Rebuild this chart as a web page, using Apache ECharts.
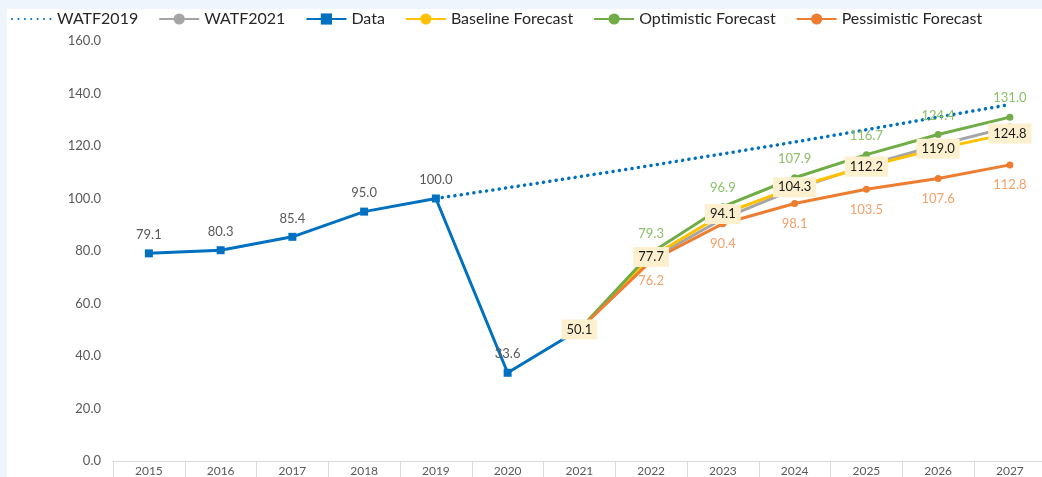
<!DOCTYPE html>
<html>
<head>
<meta charset="utf-8">
<script src="https://cdn.jsdelivr.net/npm/echarts@6/dist/echarts.min.js"></script>
<style>
  html, body { margin: 0; padding: 0; background: #eef5fd; overflow: hidden; }
  #main { position: absolute; left: 7px; top: 9px; width: 1040px; height: 468px; background: #ffffff; }
</style>
</head>
<body>
<div id="main"></div>
<script>
  // years on the category axis
  var years = ['2015', '2016', '2017', '2018', '2019', '2020', '2021', '2022', '2023', '2024', '2025', '2026', '2027'];

  // series values (null = no point)
  var watf2019 = [null, null, null, null, 100.0, 104.1, 108.3, 112.6, 117.0, 121.5, 126.2, 131.0, 135.8];
  var watf2021 = [null, null, null, null, null, null, 50.1, 77.0, 92.3, 103.6, 112.6, 120.4, 127.3];
  var actual = [79.1, 80.3, 85.4, 95.0, 100.0, 33.6, 50.1, null, null, null, null, null, null];
  var baseline = [null, null, null, null, null, null, 50.1, 77.7, 94.1, 104.3, 112.2, 119.0, 124.8];
  var optimistic = [null, null, null, null, null, null, 50.1, 79.3, 96.9, 107.9, 116.7, 124.4, 131.0];
  var pessimistic = [null, null, null, null, null, null, 50.1, 76.2, 90.4, 98.1, 103.5, 107.6, 112.8];

  var chart = echarts.init(document.getElementById('main'));
  var font = 'Lato, "Open Sans", sans-serif';

  var fmt = function (p) { return p.value == null ? '' : Number(p.value).toFixed(1); };
  // 2021 is shared by all forecasts, only the boxed baseline label shows there
  var fmtNo2021 = function (p) { return p.dataIndex === 6 ? '' : fmt(p); };

  chart.setOption({
    animation: false,
    textStyle: { fontFamily: font },
    legend: {
      left: 4,
      top: 2,
      padding: 0,
      itemWidth: 40,
      itemHeight: 14,
      itemGap: 20,
      itemTextGap: 3,
      textStyle: { fontSize: 16, color: '#262626', fontFamily: font },
      data: [
        { name: 'WATF2019', itemStyle: { opacity: 0 } },
        'WATF2021', 'Data', 'Baseline Forecast', 'Optimistic Forecast', 'Pessimistic Forecast'
      ]
    },
    grid: { left: 106, right: 1.25, top: 32, bottom: 16 },
    xAxis: {
      type: 'category',
      data: years,
      boundaryGap: true,
      axisLine: { lineStyle: { color: '#d9d9d9', width: 1 } },
      axisTick: { show: true, inside: false, length: 16, lineStyle: { color: '#d9d9d9' } },
      axisLabel: { color: '#595959', fontSize: 12, margin: 4, fontFamily: font }
    },
    yAxis: {
      type: 'value',
      min: 0,
      max: 160,
      interval: 20,
      splitLine: { show: false },
      axisLine: { show: false },
      axisTick: { show: false },
      axisLabel: {
        color: '#595959', fontSize: 13, margin: 12, fontFamily: font,
        formatter: function (v) { return v.toFixed(1); }
      }
    },
    series: [
      {
        name: 'WATF2019', type: 'line', data: watf2019, symbol: 'none',
        lineStyle: { color: '#0070c0', width: 3.5, type: [0.1, 6.3], cap: 'round' },
        itemStyle: { color: '#0070c0' }, z: 1
      },
      {
        name: 'WATF2021', type: 'line', data: watf2021, symbol: 'circle', symbolSize: 7,
        lineStyle: { color: '#a5a5a5', width: 3 },
        itemStyle: { color: '#a5a5a5' }, z: 2
      },
      {
        name: 'Data', type: 'line', data: actual, symbol: 'rect', symbolSize: 8,
        lineStyle: { color: '#0070c0', width: 3 },
        itemStyle: { color: '#0070c0' }, z: 3,
        label: {
          show: true, position: 'top', distance: 8, color: '#595959', fontSize: 13,
          formatter: fmtNo2021
        }
      },
      {
        name: 'Baseline Forecast', type: 'line', data: baseline, symbol: 'circle', symbolSize: 7,
        lineStyle: { color: '#ffc000', width: 3 },
        itemStyle: { color: '#ffc000' }, z: 4
      },
      {
        name: 'Optimistic Forecast', type: 'line', data: optimistic, symbol: 'circle', symbolSize: 7,
        lineStyle: { color: '#70ad47', width: 3 },
        itemStyle: { color: '#70ad47' }, z: 5,
        label: {
          show: true, position: 'top', distance: 9, color: '#8cc068', fontSize: 13,
          formatter: fmtNo2021
        }
      },
      {
        name: 'Pessimistic Forecast', type: 'line', data: pessimistic, symbol: 'circle', symbolSize: 7,
        lineStyle: { color: '#ed7d31', width: 3 },
        itemStyle: { color: '#ed7d31' }, z: 6,
        label: {
          show: true, position: 'bottom', distance: 10, color: '#f3a06a', fontSize: 13,
          formatter: fmtNo2021
        }
      },
      {
        // boxed baseline labels, kept above every line
        name: 'Baseline labels', type: 'line', data: baseline,
        symbol: 'circle', symbolSize: 1, showAllSymbol: true,
        itemStyle: { color: 'rgba(0,0,0,0)' },
        lineStyle: { opacity: 0 }, silent: true, z: 20,
        label: {
          show: true, position: 'inside', color: '#1a1a1a', fontSize: 13,
          backgroundColor: '#fcf0cf', padding: [4, 5, 3, 5], formatter: fmt
        },
        labelLayout: { hideOverlap: false }
      }
    ]
  });
</script>
</body>
</html>
